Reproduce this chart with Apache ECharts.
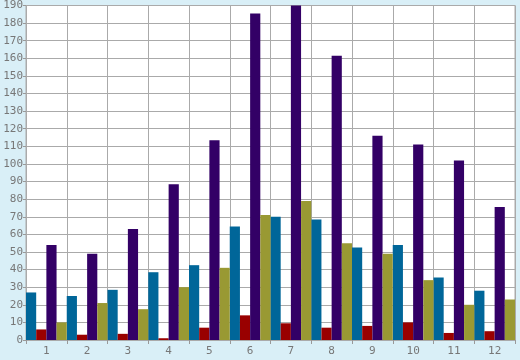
<!DOCTYPE html>
<html>
<head>
<meta charset="utf-8">
<script src="https://cdn.jsdelivr.net/npm/echarts@6/dist/echarts.min.js"></script>
<style>html,body{margin:0;padding:0;background:#d9eff7;}#c{width:520px;height:360px;}</style>
</head>
<body>
<div id="c"></div>
<script>
var categories = ['1','2','3','4','5','6','7','8','9','10','11','12'];
var blueValues = [27, 25, 28.5, 38.5, 42.5, 64.5, 70, 68.5, 52.5, 54, 35.5, 28];
var redValues = [6, 3, 3.5, 1, 7, 14, 9.5, 7, 8, 10, 4, 5];
var purpleValues = [54, 49, 63, 88.5, 113.5, 185.5, 190, 161.5, 116, 111, 102, 75.5];
var oliveValues = [10, 21, 17.5, 30, 41, 71, 79, 55, 49, 34, 20, 23];

var chart = echarts.init(document.getElementById('c'));
var labelFont = {color:'#777', fontFamily:'DejaVu Sans Mono', fontSize:11};
function bar(name, data, color){
  return {name:name, type:'bar', data:data, barGap:'0%', barCategoryGap:'0%',
    itemStyle:{color:color}, animation:false};
}
chart.setOption({
  animation:false,
  backgroundColor:'#d9eff7',
  grid:{left:26, right:5, top:5, bottom:20, show:true, backgroundColor:'#ffffff', borderColor:'#aaaaaa', borderWidth:1},
  xAxis:{type:'category', data:categories, boundaryGap:true,
    axisLine:{lineStyle:{color:'#aaaaaa'}},
    axisTick:{show:true, length:4, lineStyle:{color:'#999999'}},
    axisLabel:Object.assign({margin:6}, labelFont),
    splitLine:{show:true, lineStyle:{color:'#aaaaaa', width:1}}},
  yAxis:{type:'value', min:0, max:190, interval:10,
    axisLine:{show:true, lineStyle:{color:'#aaaaaa'}},
    axisTick:{show:true, length:3, lineStyle:{color:'#999999'}},
    axisLabel:Object.assign({margin:3}, labelFont),
    splitLine:{show:true, lineStyle:{color:'#aaaaaa', width:1}}},
  series:[
    bar('blue', blueValues, '#006699'),
    bar('red', redValues, '#990000'),
    bar('purple', purpleValues, '#330066'),
    bar('olive', oliveValues, '#999933')
  ]
});
</script>
</body>
</html>
